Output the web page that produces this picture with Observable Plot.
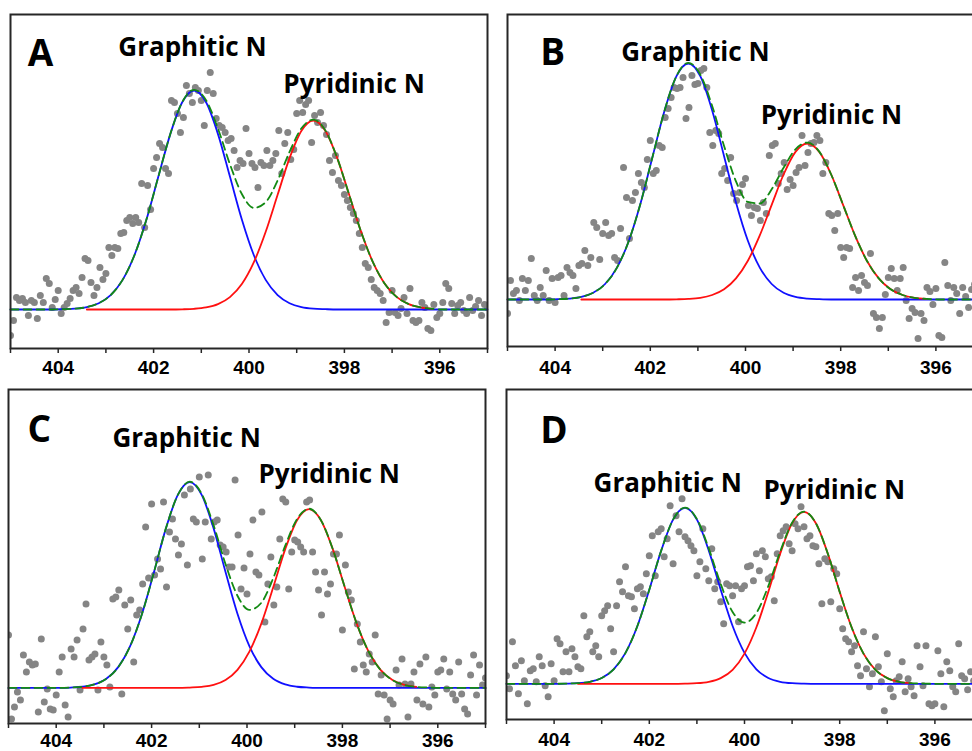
<!DOCTYPE html>
<html><head><meta charset="utf-8">
<script src="https://cdn.jsdelivr.net/npm/d3@7"></script>
<script src="https://cdn.jsdelivr.net/npm/@observablehq/plot@0.6"></script>
<style>
html,body{margin:0;padding:0;background:#fff;}
#wrap{position:relative;width:972px;height:751px;overflow:hidden;background:#fff;}
#wrap > svg{position:absolute;}
</style></head><body><div id="wrap"></div>
<script>
// ---------- DATA ----------
// N 1s scan: binding energy grid (eV)
const scanStart = 405, scanStep = 0.0625;
// measured intensities (a.u., baseline = 0)
const intensityA = [
 -26,-11,12,9,11,7,-6,9,7,-9,14,7,31,26,2,10,
 19,-4,2,6,11,19,22,16,32,51,49,27,14,22,42,30,
 36,62,54,62,61,76,77,89,92,86,92,87,126,82,124,100,
 141,152,166,162,141,136,209,207,196,177,192,224,216,207,222,219,
 209,184,219,237,216,191,184,182,177,169,171,159,142,149,146,181,
 156,146,142,122,147,144,159,144,149,156,179,136,166,177,150,160,
 196,209,197,205,209,167,194,187,197,184,175,149,137,154,129,124,
 115,109,102,96,89,76,62,46,42,30,22,19,16,9,-13,-3,
 19,-3,-6,1,12,-4,21,-11,-13,-11,7,2,-19,-21,5,-8,
 -4,7,26,21,6,-4,4,7,-1,-4,12,-1,3,9,-6,5,
 2];
const intensityB = [
 -14,19,6,9,-1,21,9,19,41,4,-1,12,4,29,-1,21,
 -3,22,24,4,32,27,24,11,34,36,49,34,42,77,72,40,
 66,77,64,66,42,39,71,132,102,61,99,107,126,117,112,140,
 159,126,129,154,152,182,191,202,212,211,212,222,181,192,224,215,
 216,229,231,212,167,154,169,166,126,131,119,142,106,99,107,115,
 121,94,84,92,91,79,97,86,144,154,156,116,126,137,110,120,
 114,127,132,164,134,147,156,157,164,159,126,137,86,84,69,86,
 52,42,52,51,12,22,9,24,17,14,46,-14,-18,-29,-18,5,
 22,31,21,9,21,32,-1,-19,-9,-13,-39,-14,-21,12,8,-5,
 11,-36,-38,37,14,-1,12,6,-14,12,3,-8,10,15,-4,6,
 2];
const intensityC = [
 53,-31,-19,-4,-12,33,16,26,23,24,-24,49,-14,-1,-21,-22,
 -7,16,31,-17,-29,39,31,48,-2,59,84,28,31,34,-2,46,
 31,23,1,89,91,98,-6,83,59,88,26,73,78,104,161,110,
 184,113,129,119,186,101,156,169,149,133,144,193,123,199,169,166,
 211,129,166,213,149,166,168,143,141,136,121,121,208,153,99,120,
 94,134,168,116,113,176,66,104,131,83,101,149,189,186,99,136,
 148,146,141,136,186,188,136,116,98,73,116,94,104,134,134,153,
 58,123,96,88,19,64,46,23,16,34,26,53,-6,13,-7,-31,
 -12,-16,18,3,29,4,-29,4,16,-12,24,-16,31,-19,1,-7,
 16,18,29,-1,16,-6,-12,26,-6,-21,-26,13,33,-7,23,3,
 10];
const intensityD = [
 8,-5,42,18,-10,23,3,-20,13,15,2,27,18,-2,-13,20,
 3,45,40,12,32,12,35,27,17,15,68,47,52,32,38,27,
 68,73,78,55,32,78,102,92,117,88,87,75,95,97,90,110,
 128,148,108,152,155,127,145,178,120,168,152,185,147,143,138,133,
 108,122,155,115,103,135,95,102,82,60,100,98,88,98,62,95,
 98,117,118,103,130,113,133,127,105,107,83,130,148,153,157,140,
 133,160,155,177,157,145,148,138,137,120,80,125,122,82,115,110,
 75,55,45,42,32,38,18,8,52,15,-3,10,47,17,2,-27,
 30,-5,-13,3,7,22,-8,5,-3,-12,38,17,-2,38,-20,-22,
 -20,33,10,-23,22,13,-3,-8,40,8,5,-6,12,3,-4,8,
 2];

// fitted components (energy grid, graphitic N, pyridinic N, envelope)
const fitEnergyA = [405,404.9,404.65,404.4,404.15,403.9,403.65,403.4,403.15,402.9,402.65,402.4,402.15,401.9,401.65,401.4,401.15,400.9,400.65,400.4,400.15,399.9,399.65,399.4,399.15,398.9,398.65,398.4,398.15,397.9,397.65,397.4,397.15,396.9,396.65,396.4,396.15,395.9,395.65,395.4,395.15,395];
const graphiticA = [0,0,0,0,0,0.3,0.8,2.4,6.3,14.4,29.6,54.5,90.0,132.9,175.4,207.2,219,207.2,175.4,132.9,90.0,54.5,29.6,14.4,6.3,2.4,0.8,0.3,0,0,0,0,0,0,0,0,0,0,0,0,0,0];
const pyridinicA = [null,null,null,null,null,null,null,0,0,0,0,0,0,0,0,0.2,0.7,2.1,5.4,12.4,25.5,47.1,77.7,114.7,151.4,178.8,189,178.8,151.4,114.7,77.7,47.1,25.5,12.4,5.4,2.1,0.7,null,null,null,null,null];
const envelopeA = [0,0,0,0,0,0.3,0.8,2.4,6.3,14.4,29.6,54.5,90.0,132.9,175.4,207.4,219.7,209.3,180.8,145.3,115.5,101.6,107.3,129.1,157.7,181.2,189.8,179.1,151.4,114.7,77.7,47.1,25.5,12.4,5.4,2.1,0.7,0,0,0,0,0];

const fitEnergyB = [405,404.95,404.7,404.45,404.2,403.95,403.7,403.45,403.2,402.95,402.7,402.45,402.2,401.95,401.7,401.45,401.2,400.95,400.7,400.45,400.2,399.95,399.7,399.45,399.2,398.95,398.7,398.45,398.2,397.95,397.7,397.45,397.2,396.95,396.7,396.45,396.2,395.95,395.7,395.45,395.2,395];
const graphiticB = [0,0,0,0,0,0.3,0.9,2.6,6.7,15.5,31.9,58.8,97.0,143.3,189.0,223.3,236,223.3,189.0,143.3,97.0,58.8,31.9,15.5,6.7,2.6,0.9,0.3,0,0,0,0,0,0,0,0,0,0,0,0,0,0];
const pyridinicB = [null,null,null,null,null,null,null,0,0,0,0,0,0,0,0,0.2,0.6,1.7,4.5,10.2,21.1,38.8,64.1,94.7,125.0,147.6,156,147.6,125.0,94.7,64.1,38.8,21.1,10.2,4.5,1.7,0.6,null,null,null,null,null];
const envelopeB = [0,0,0,0,0,0.3,0.9,2.6,6.7,15.5,31.9,58.8,97.0,143.3,189.0,223.5,236.6,225.0,193.5,153.5,118.1,97.6,96.0,110.2,131.7,150.2,156.9,147.9,125.0,94.7,64.1,38.8,21.1,10.2,4.5,1.7,0.6,0,0,0,0,0];

const fitEnergyC = fitEnergyB;
const graphiticC = [0,0,0,0,0,0,0.4,1.2,3.5,9.1,20.8,41.8,74.2,116.0,159.7,193.2,206,193.2,159.7,116.0,74.2,41.8,20.8,9.1,3.5,1.2,0.4,0,0,0,0,0,0,0,0,0,0,0,0,0,0,0];
const pyridinicC = [null,null,null,null,null,null,null,0,0,0,0,0,0,0,0,0,0.4,1.1,3.0,7.9,18.1,36.3,64.4,100.8,138.7,167.9,179,167.9,138.7,100.8,64.4,36.3,18.1,7.9,3.0,1.1,null,null,null,null,null,null];
const envelopeC = [0,0,0,0,0,0,0.4,1.2,3.5,9.1,20.8,41.8,74.2,116.0,159.7,193.2,206.4,194.3,162.7,123.9,92.3,78.1,85.2,109.9,142.2,169.1,179.4,167.9,138.7,100.8,64.4,36.3,18.1,7.9,3.0,1.1,0.4,0,0,0,0,0];

const fitEnergyD = [405,404.75,404.5,404.25,404,403.75,403.5,403.25,403,402.75,402.5,402.25,402,401.75,401.5,401.25,401,400.75,400.5,400.25,400,399.75,399.5,399.25,399,398.75,398.5,398.25,398,397.75,397.5,397.25,397,396.75,396.5,396.25,396,395.75,395.5,395.25,395];
const graphiticD = [0,0,0,0,0,0.2,0.6,2.0,5.8,14.4,30.9,57.8,94.1,133.2,164.2,176,164.2,133.2,94.1,57.8,30.9,14.4,5.8,2.0,0.6,0.2,0,0,0,0,0,0,0,0,0,0,0,0,0,0,0];
const pyridinicD = [null,null,null,null,null,null,0,0,0,0,0,0,0,0,0,0.2,0.6,2.0,5.7,14.0,30.2,56.5,91.9,130.2,160.5,172,160.5,130.2,91.9,56.5,30.2,14.0,5.7,2.0,0.6,null,null,null,null,null,null];
const envelopeD = [0,0,0,0,0,0.2,0.6,2.0,5.8,14.4,30.9,57.8,94.1,133.2,164.2,176.2,164.8,135.2,99.8,71.8,61.1,70.9,97.7,132.2,161.1,172.2,160.5,130.2,91.9,56.5,30.2,14.0,5.7,2.0,0.6,0.2,0,0,0,0,0];

// axis ticks
const tickEnergies = [405,404,403,402,401,400,399,398,397,396,395];
const tickLabels = [404,402,400,398,396];

// annotations (text, energy eV, intensity a.u.)
const panelLetters = ["A","B","C","D"];
const peakNames = ["Graphitic N","Pyridinic N"];
const letterPosE = [404.64, 404.31, 404.60, 404.29];
const letterPosI = [244, 235, 246, 241];
const graphiticPosE = [402.74, 402.61, 402.82, 403.17];
const graphiticPosI = [254, 239, 241, 192];
const pyridinicPosE = [399.28, 399.68, 399.76, 399.60];
const pyridinicPosI = [217, 176, 205, 185];

// ---------- LAYOUT ----------
const layout = [
  {left:0,   top:0,   width:490, height:375, ml:10, mr:3, mt:14, mb:27, yLo:-39, yHi:295, pad:7},
  {left:490, top:0,   width:496, height:375, ml:17, mr:3, mt:14, mb:29, yLo:-47, yHi:285, pad:9},
  {left:0,   top:375, width:490, height:376, ml:8,  mr:5, mt:14, mb:28, yLo:-35.6, yHi:298.7, pad:5},
  {left:490, top:375, width:496, height:376, ml:16, mr:4, mt:14, mb:32, yLo:-35.7, yHi:294.3, pad:8}
];
const series = [
  [intensityA, fitEnergyA, graphiticA, pyridinicA, envelopeA],
  [intensityB, fitEnergyB, graphiticB, pyridinicB, envelopeB],
  [intensityC, fitEnergyC, graphiticC, pyridinicC, envelopeC],
  [intensityD, fitEnergyD, graphiticD, pyridinicD, envelopeD]
];

const wrap = document.getElementById("wrap");
series.forEach(([inten, fe, gr, py, env], k) => {
  const L = layout[k];
  const pts = inten.map((v, i) => ({e: scanStart - i * scanStep, v}));
  const fit = fe.map((e, i) => ({e, g: gr[i], p: py[i], s: env[i]}));
  const labels = [
    {e: graphiticPosE[k], v: graphiticPosI[k], t: peakNames[0]},
    {e: pyridinicPosE[k], v: pyridinicPosI[k], t: peakNames[1]}
  ];
  const letter = [{e: letterPosE[k], v: letterPosI[k], t: panelLetters[k]}];
  const chart = Plot.plot({
    width: L.width, height: L.height,
    marginLeft: L.ml, marginRight: L.mr, marginTop: L.mt, marginBottom: L.mb,
    x: {domain: [405, 395], axis: null, label: null},
    y: {domain: [L.yLo, L.yHi], axis: null, label: null},
    style: {fontFamily: "'Liberation Sans', Arial, sans-serif", fontWeight: "bold", fontSize: "19px", color: "#000", background: "transparent", overflow: "visible"},
    marks: [
      Plot.dot(pts, {x: "e", y: "v", r: 3.5, fill: "#858585", stroke: null, clip: true}),
      Plot.line(fit, {x: "e", y: "g", stroke: "#1010ff", strokeWidth: 1.8, curve: "monotone-x"}),
      Plot.line(fit.filter(d => d.p != null), {x: "e", y: "p", stroke: "#ff1010", strokeWidth: 1.8, curve: "monotone-x"}),
      Plot.line(fit, {x: "e", y: "s", stroke: "#138a13", strokeWidth: 1.8, strokeDasharray: "8,5", curve: "monotone-x"}),
      Plot.frame({stroke: "#262626", strokeWidth: 2}),
      Plot.axisX({ticks: tickEnergies, tickFormat: d => tickLabels.includes(d) ? String(d) : "", label: null, tickSize: 5, tickPadding: L.pad, stroke: "#262626", strokeWidth: 1.5, color: "#000", fontSize: 19, fontWeight: "bold"}),
      Plot.text(labels, {x: "e", y: "v", text: "t", textAnchor: "start", lineAnchor: "bottom", fontFamily: "'Open Sans', sans-serif", fontWeight: "bold", fontSize: 26, fill: "#000"}),
      Plot.text(letter, {x: "e", y: "v", text: "t", textAnchor: "start", lineAnchor: "bottom", fontFamily: "'Open Sans', sans-serif", fontWeight: "bold", fontSize: 37, fill: "#000"})
    ]
  });
  chart.style.left = L.left + "px";
  chart.style.top = L.top + "px";
  wrap.appendChild(chart);
});
</script></body></html>
